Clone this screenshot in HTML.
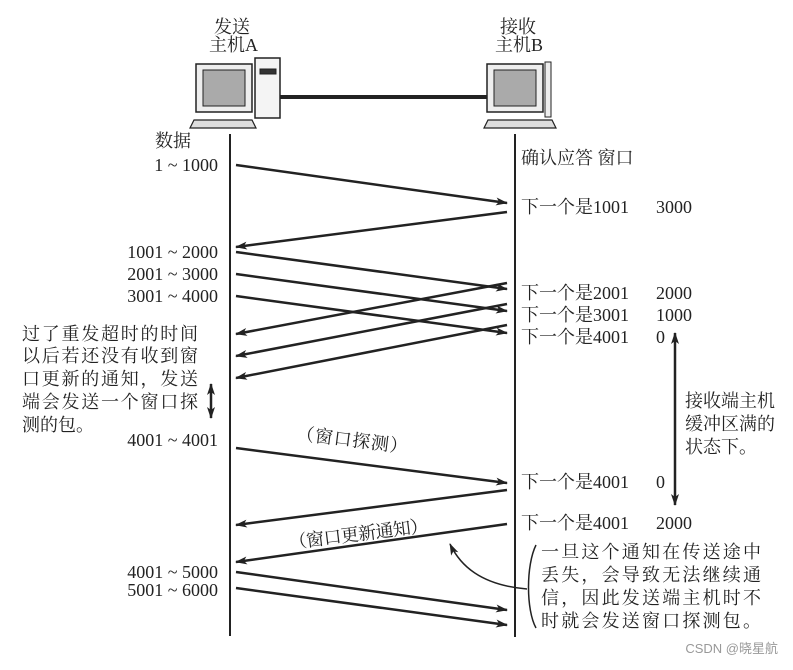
<!DOCTYPE html>
<html><head><meta charset="utf-8"><style>
body{margin:0;width:793px;height:665px;background:#fff;overflow:hidden}
svg text{font-family:"Liberation Serif","Noto Serif CJK SC","Noto Sans CJK SC",serif;font-size:18px;fill:#222}
</style></head><body>
<svg width="793" height="665" viewBox="0 0 793 665">
<defs><marker id="a" markerWidth="12" markerHeight="8" refX="11" refY="4" orient="auto" markerUnits="userSpaceOnUse"><path d="M0,0 L12,4 L0,8 L3,4z" fill="#222"/></marker></defs>
<g stroke="#222" fill="none">
<line x1="230" y1="134" x2="230" y2="636" stroke-width="2"/>
<line x1="515" y1="134" x2="515" y2="637" stroke-width="2"/>
<line x1="280" y1="97" x2="487" y2="97" stroke-width="4"/>
<rect x="196" y="64" width="56" height="48" fill="#eee" stroke-width="1.5"/>
<rect x="203" y="70" width="42" height="36" fill="#aaa" stroke-width="1"/>
<rect x="255" y="58" width="25" height="60" fill="#f4f4f4" stroke-width="1.5"/>
<rect x="260" y="69" width="16" height="5" fill="#333"/>
<path d="M190,128 L256,128 L252,120 L194,120z" fill="#ddd" stroke-width="1.2"/>
<rect x="487" y="64" width="56" height="48" fill="#eee" stroke-width="1.5"/>
<rect x="494" y="70" width="42" height="36" fill="#aaa" stroke-width="1"/>
<rect x="545" y="62" width="6" height="55" fill="#eee" stroke-width="1"/>
<path d="M484,128 L556,128 L552,120 L488,120z" fill="#ddd" stroke-width="1.2"/>
<g stroke-width="2.5" marker-end="url(#a)">
<line x1="236" y1="165" x2="507" y2="203"/>
<line x1="507" y1="212" x2="236" y2="247"/>
<line x1="236" y1="252" x2="507" y2="289"/>
<line x1="236" y1="274" x2="507" y2="311"/>
<line x1="236" y1="296" x2="507" y2="333"/>
<line x1="507" y1="283" x2="236" y2="334"/>
<line x1="507" y1="304" x2="236" y2="356"/>
<line x1="507" y1="325" x2="236" y2="378"/>
<line x1="236" y1="448" x2="507" y2="483"/>
<line x1="507" y1="490" x2="236" y2="525"/>
<line x1="507" y1="524" x2="236" y2="562"/>
<line x1="236" y1="572" x2="507" y2="610"/>
<line x1="236" y1="588" x2="507" y2="625"/>
<line x1="211" y1="400" x2="211" y2="384"/>
<line x1="211" y1="400" x2="211" y2="418"/>
<line x1="675" y1="420" x2="675" y2="333"/>
<line x1="675" y1="420" x2="675" y2="505"/>
</g>
<path d="M527,589 C480,585 460,565 450,544" stroke-width="1.5" marker-end="url(#a)"/>
<path d="M536,545 C526,565 526,610 536,628" stroke-width="1.5"/>
</g>
<rect x="292" y="440" width="120" height="14" fill="#fff" transform="rotate(7 350 447)"/>
<text x="296" y="446" transform="rotate(7 350 440)" textLength="112">（窗口探测）</text>
<text x="288" y="540" transform="rotate(-7 360 530)" textLength="140">（窗口更新通知）</text>
<text x="214" y="33" font-size="17">发送</text><text x="209" y="51" font-size="17">主机A</text>
<text x="500" y="33" font-size="17">接收</text><text x="495" y="51" font-size="17">主机B</text>
<text x="155" y="147">数据</text>
<g text-anchor="end">
<text x="218" y="171">1 ~ 1000</text>
<text x="218" y="258">1001 ~ 2000</text>
<text x="218" y="280">2001 ~ 3000</text>
<text x="218" y="302">3001 ~ 4000</text>
<text x="218" y="446">4001 ~ 4001</text>
<text x="218" y="578">4001 ~ 5000</text>
<text x="218" y="596">5001 ~ 6000</text>
</g>
<text x="521" y="164">确认应答 窗口</text>
<text x="521" y="213">下一个是1001<tspan x="656">3000</tspan></text>
<text x="521" y="299">下一个是2001<tspan x="656">2000</tspan></text>
<text x="521" y="321">下一个是3001<tspan x="656">1000</tspan></text>
<text x="521" y="343">下一个是4001<tspan x="656">0</tspan></text>
<text x="521" y="488">下一个是4001<tspan x="656">0</tspan></text>
<text x="521" y="529">下一个是4001<tspan x="656">2000</tspan></text>
<g font-size="19">
<text x="22" y="340" textLength="176">过了重发超时的时间</text>
<text x="22" y="362" textLength="176">以后若还没有收到窗</text>
<text x="22" y="385" textLength="176">口更新的通知，发送</text>
<text x="22" y="408" textLength="176">端会发送一个窗口探</text>
<text x="22" y="431">测的包。</text>
<text x="685" y="407">接收端主机</text>
<text x="685" y="430">缓冲区满的</text>
<text x="685" y="453">状态下。</text>
<text x="541" y="558" textLength="220">一旦这个通知在传送途中</text>
<text x="541" y="581" textLength="220">丢失，会导致无法继续通</text>
<text x="541" y="604" textLength="220">信，因此发送端主机时不</text>
<text x="541" y="627" textLength="220">时就会发送窗口探测包。</text>
</g>
<text x="778" y="653" text-anchor="end" style="font-family:'Liberation Sans','Noto Sans CJK SC',sans-serif;font-size:13px;fill:#999">CSDN @晓星航</text>
</svg>
</body></html>
